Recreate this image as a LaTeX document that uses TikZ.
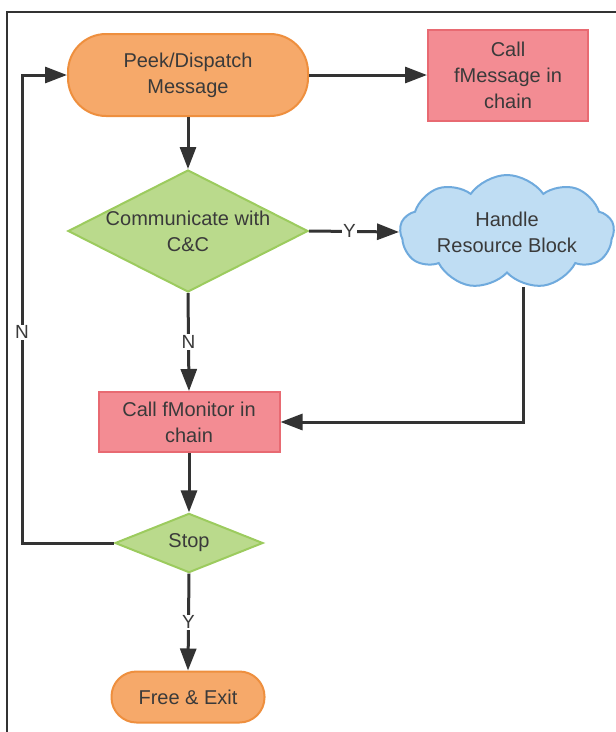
\documentclass[tikz,border=0pt]{standalone}
\usepackage{fontspec}
\setmainfont{Liberation Sans}
\usetikzlibrary{shapes.geometric,shapes.symbols,arrows.meta}
\definecolor{orfill}{HTML}{F6A96A}
\definecolor{ordraw}{HTML}{EE8F3E}
\definecolor{rdfill}{HTML}{F38C93}
\definecolor{rddraw}{HTML}{E86A72}
\definecolor{grfill}{HTML}{BADA8C}
\definecolor{grdraw}{HTML}{9CCB5E}
\definecolor{blfill}{HTML}{BFDDF3}
\definecolor{bldraw}{HTML}{6FAADD}
\definecolor{ink}{HTML}{333333}
\definecolor{txtc}{HTML}{3A3A3A}
\begin{document}
\begin{tikzpicture}[x=1pt,y=-1pt,
 every node/.style={font=\fontsize{20}{26}\selectfont, text=txtc, align=center},
 term/.style={draw=ordraw, fill=orfill, line width=2pt, rectangle, rounded corners=#1},
 proc/.style={draw=rddraw, fill=rdfill, line width=2pt, rectangle, inner sep=2pt},
 dec/.style={draw=grdraw, fill=grfill, line width=2pt, diamond, inner sep=0pt},
 cloudbox/.style={draw=bldraw, fill=blfill, line width=2pt, cloud, cloud puffs=9, cloud puff arc=110, inner sep=0pt},
 conn/.style={draw=ink, line width=3pt, -{Triangle[length=22pt,width=16pt]}},
 lbl/.style={fill=white, inner sep=1pt, font=\fontsize{19}{22}\selectfont}
]
\useasboundingbox (0,0) rectangle (616,732);
\draw[ink, line width=1.5pt] (7,732) -- (7,12) -- (616,12);

\node[term=38pt, minimum width=240pt, minimum height=82pt] (peek) at (188,75) {Peek/Dispatch\\Message};
\node[proc, minimum width=160pt, minimum height=91pt] (msg) at (508,75) {Call\\fMessage in\\chain};
\node[dec, minimum width=240pt, minimum height=122pt] (cc) at (188,231) {};
\node (cctext) at (cc) {Communicate with\\C\&C};
\node[cloudbox, minimum width=214pt, minimum height=114pt] (cloud) at (507,232) {};
\node (cloudtext) at (cloud) {Handle\\Resource Block};
\node[proc, minimum width=181pt, minimum height=60pt] (mon) at (189,422) {Call fMonitor in\\chain};
\node[dec, minimum width=148pt, minimum height=53pt] (stop) at (189,543) {Stop};
\node[term=25pt, minimum width=153pt, minimum height=51pt] (free) at (188,697) {Free \& Exit};

\coordinate (lb) at (22,543);
\coordinate (lt) at (22,75);
\coordinate (cbot) at (523,287);

\draw[conn] (peek.east) -- (msg.west);
\draw[conn] (peek.south) -- (cc.north);
\draw[conn] (cc.east) -- node[lbl, pos=0.45]{Y} (cloud.west);
\draw[conn] (cc.south) -- node[lbl]{N} (mon.north);
\draw[conn] (cbot) |- (mon.east);
\draw[conn] (mon.south) -- (stop.north);
\draw[conn] (stop.west) -- (lb) -- node[lbl, pos=0.45]{N} (lt) -- (peek.west);
\draw[conn] (stop.south) -- node[lbl]{Y} (free.north);
\end{tikzpicture}
\end{document}
